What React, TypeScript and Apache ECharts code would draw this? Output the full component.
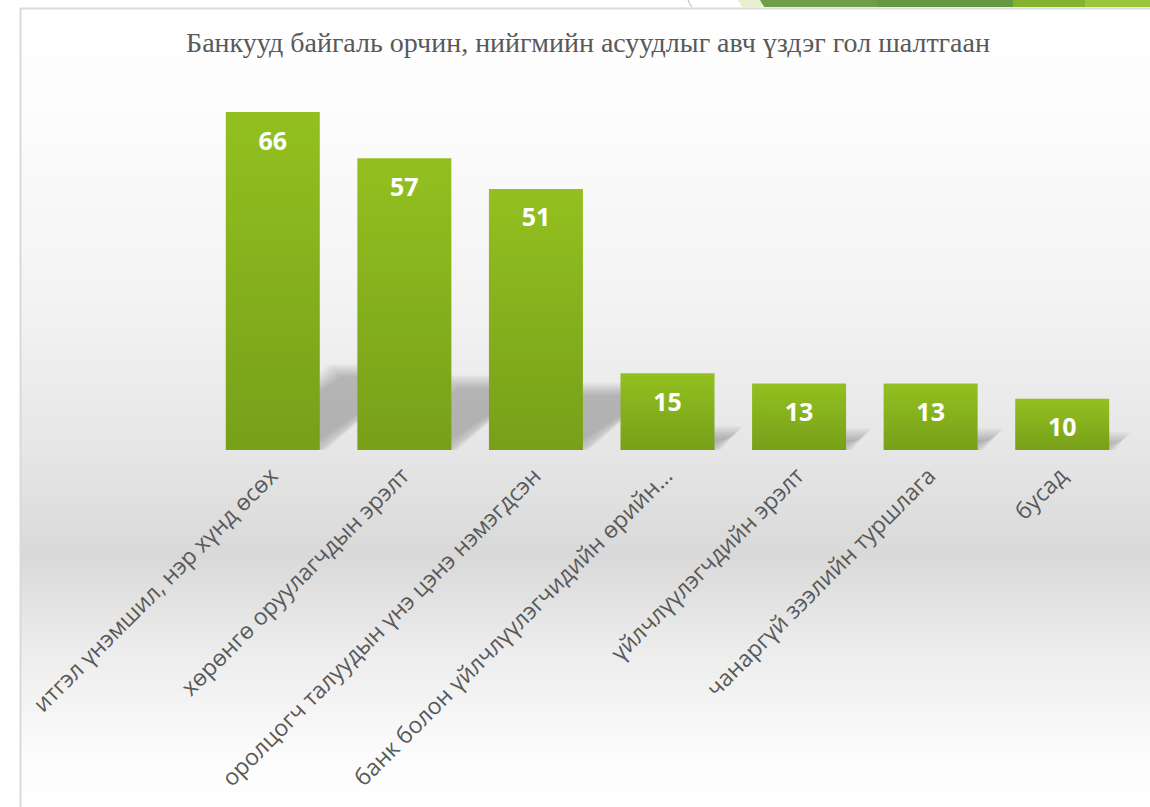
import React, { useEffect, useRef } from "react";
import * as echarts from "echarts";

const titleText = "Банкууд байгаль орчин, нийгмийн асуудлыг авч үздэг гол шалтгаан";
const categories = [
  "итгэл үнэмшил, нэр хүнд өсөх",
  "хөрөнгө оруулагчдын эрэлт",
  "оролцогч талуудын үнэ цэнэ нэмэгдсэн",
  "банк болон үйлчлүүлэгчидийн өрийн…",
  "үйлчлүүлэгчдийн эрэлт",
  "чанаргүй зээлийн туршлага",
  "бусад",
];
const values = [66, 57, 51, 15, 13, 13, 10];

export default function App() {
  const ref = useRef<HTMLDivElement>(null);
  useEffect(() => {
    if (!ref.current) return;
    const chart = echarts.init(ref.current, null, { renderer: "svg" });
    const option: any = {
      animation: false,
      graphic: [
        {
          type: "rect",
          z: -10,
          silent: true,
          shape: { x: 21, y: 9, width: 1129, height: 798 },
          style: {
            fill: new echarts.graphic.LinearGradient(0, 0, 0, 1, [
              { offset: 0, color: "#ffffff" },
              { offset: 0.114, color: "#fdfdfd" },
              { offset: 0.365, color: "#f3f3f3" },
              { offset: 0.553, color: "#e6e6e6" },
              { offset: 0.685, color: "#d9d9d9" },
              { offset: 0.8, color: "#ececec" },
              { offset: 0.94, color: "#fcfcfc" },
              { offset: 1, color: "#ffffff" },
            ]),
          },
        },
        { type: "line", z: -5, silent: true, shape: { x1: 20, y1: 8.5, x2: 1150, y2: 8.5 }, style: { stroke: "#dadada", lineWidth: 2 } },
        { type: "line", z: -5, silent: true, shape: { x1: 20.5, y1: 8, x2: 20.5, y2: 807 }, style: { stroke: "#dadada", lineWidth: 2 } },
        { type: "bezierCurve", z: -5, silent: true, shape: { x1: 688, y1: 0, cpx1: 689, cpy1: 3, x2: 692, y2: 7 }, style: { stroke: "#b0b0b0", lineWidth: 1, fill: null } },
        { type: "polygon", z: -5, silent: true, shape: { points: [[738, 0], [762, 0], [762, 7], [742, 7]] }, style: { fill: "#e6f0cf" } },
        { type: "polygon", z: -5, silent: true, shape: { points: [[760, 0], [878, 0], [878, 7], [764, 7]] }, style: { fill: "#6f9d4a" } },
        { type: "rect", z: -5, silent: true, shape: { x: 877, y: 0, width: 137, height: 7 }, style: { fill: "#659940" } },
        { type: "rect", z: -5, silent: true, shape: { x: 1013, y: 0, width: 73, height: 7 }, style: { fill: "#84b32d" } },
        { type: "rect", z: -5, silent: true, shape: { x: 1085, y: 0, width: 65, height: 7 }, style: { fill: "#97c63b" } },
        {
          type: "text",
          x: 588,
          y: 42,
          style: {
            text: titleText,
            fill: "#595959",
            font: '28px "Liberation Serif"',
            textAlign: "center",
            textVerticalAlign: "middle",
          },
        },
      ],
      grid: { left: 207, right: 22, top: 91.6, bottom: 357, containLabel: false },
      xAxis: {
        type: "category",
        data: categories,
        axisLine: { show: false },
        axisTick: { show: false },
        axisLabel: {
          rotate: 45,
          interval: 0,
          margin: 21,
          color: "#595959",
          fontSize: 23,
          fontFamily: "Open Sans",
        },
      },
      yAxis: { type: "value", min: 0, max: 70, show: false, splitLine: { show: false } },
      series: [
        {
          type: "custom",
          z: 1,
          silent: true,
          data: values.map((v, i) => [i, v]),
          renderItem: (params: any, api: any) => {
            const idx = api.value(0);
            const v = api.value(1);
            const base = api.coord([idx, 0]);
            const catW = api.size([1, 0])[0];
            const bw = catW * (94 / 131.5);
            const xl = base[0] - bw / 2 + 10;
            const xr = base[0] + bw / 2;
            const h = api.size([0, v])[1] * 0.235;
            const dx = h * 1.25;
            const y0 = base[1];
            const children: any[] = [];
            for (let e = 6; e >= -6; e -= 2) {
              const yb = y0 + Math.min(e, 0);
              children.push({
                type: "polygon",
                shape: {
                  points: [
                    [xl - e, yb],
                    [xr + e, yb],
                    [xr + dx + e, y0 - h - e],
                    [xl + dx - e, y0 - h - e],
                  ],
                },
                style: { fill: "rgba(0,0,0,0.035)" },
              });
            }
            return { type: "group", children };
          },
        },
        {
          type: "bar",
          z: 2,
          data: values,
          barWidth: 94,
          itemStyle: {
            color: new echarts.graphic.LinearGradient(0, 0, 0, 1, [
              { offset: 0, color: "#93c020" },
              { offset: 1, color: "#77a019" },
            ]),
          },
          label: {
            show: true,
            position: "insideTop",
            distance: 15,
            color: "#ffffff",
            fontWeight: "bold",
            fontSize: 25,
            fontFamily: "Open Sans",
          },
        },
      ],
    };
    chart.setOption(option);
    return () => chart.dispose();
  }, []);
  return (
    <div
      ref={ref}
      style={{ position: "absolute", left: 0, top: 0, width: 1150, height: 807 }}
    />
  );
}
